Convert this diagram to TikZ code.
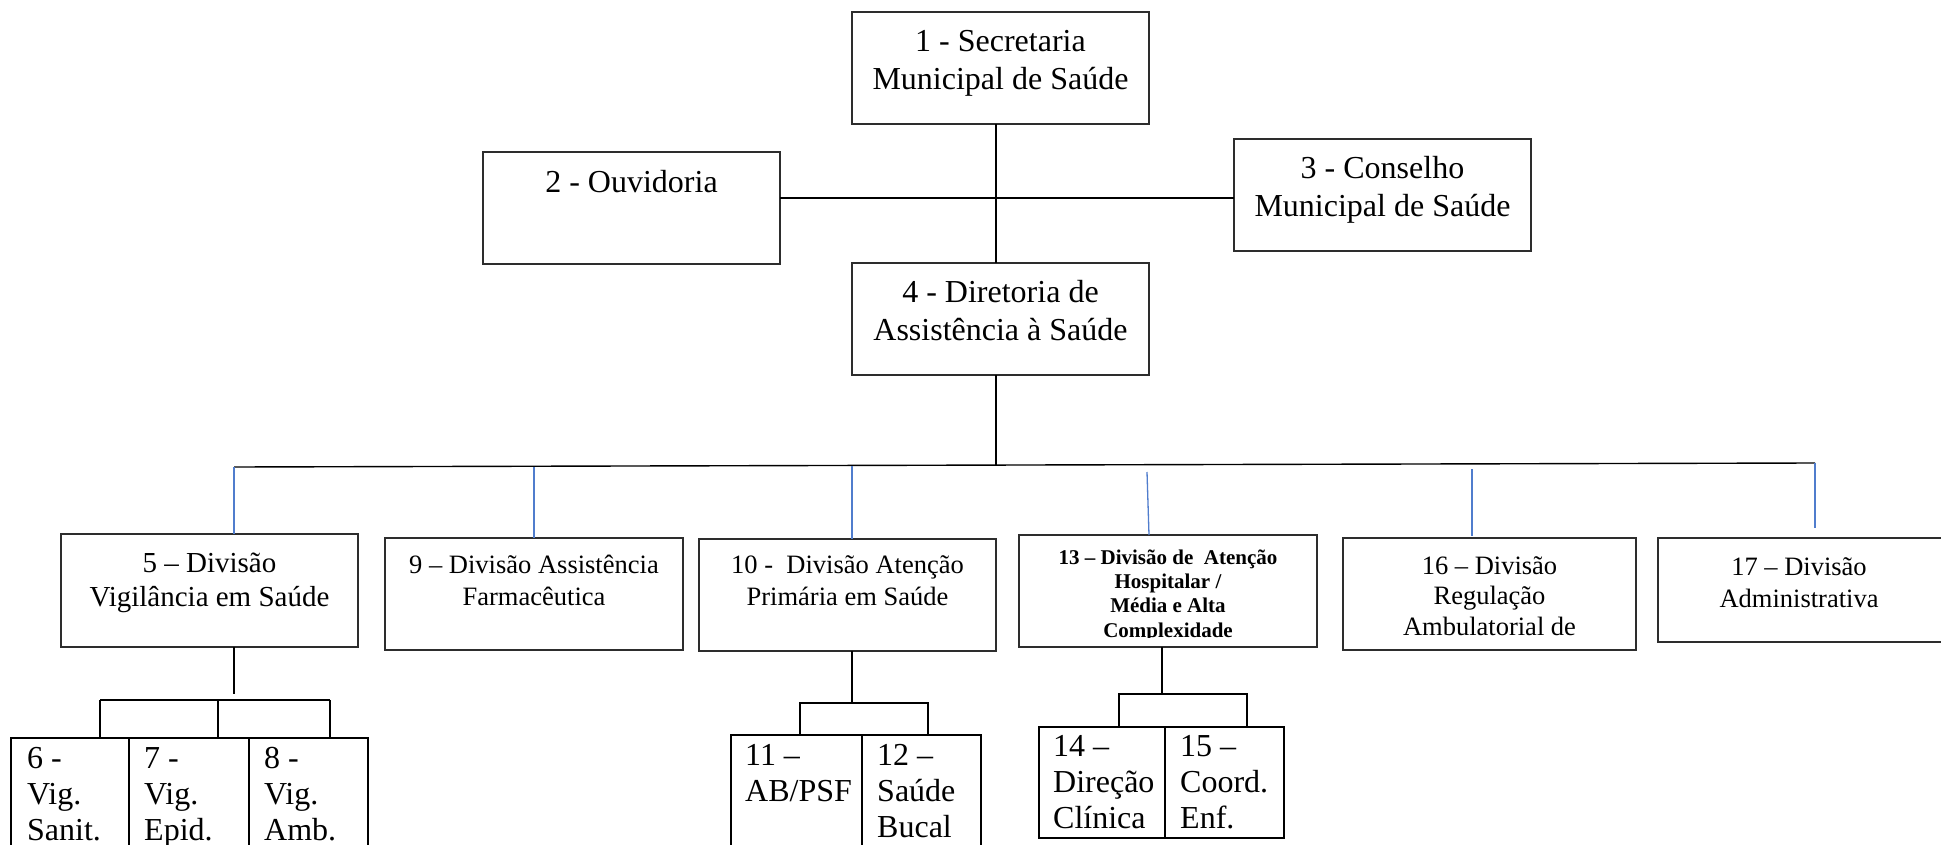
\documentclass[tikz,border=0pt]{standalone}
\usepackage{fontspec}
\setmainfont{Liberation Serif}
\definecolor{conblue}{RGB}{80,125,205}
\definecolor{boxline}{RGB}{45,45,45}
\begin{document}
\begin{tikzpicture}[x=1pt,y=-1pt,
  box/.style={draw=boxline, line width=1.6pt, anchor=north west, inner sep=0pt, outer sep=0pt},
  subbox/.style={draw=black, line width=2.6pt, anchor=north west, inner sep=0pt, outer sep=0pt},
  bigtxt/.style={font=\fontsize{32}{38}\selectfont, align=center, anchor=base, inner sep=0pt},
  vigtxt/.style={font=\fontsize{29}{34}\selectfont, align=center, anchor=base, inner sep=0pt},
  midtxt/.style={font=\fontsize{26.5}{32}\selectfont, align=center, anchor=base, inner sep=0pt},
  regtxt/.style={font=\fontsize{26.5}{30.5}\selectfont, align=center, anchor=base, inner sep=0pt},
  boldtxt/.style={font=\bfseries\fontsize{21}{24.3}\selectfont, align=center, anchor=base, inner sep=0pt},
  subtxt/.style={font=\fontsize{32}{36}\selectfont, align=left, anchor=base west, inner sep=0pt},
  blackline/.style={draw=black, line width=1.4pt},
  blueline/.style={draw=conblue, line width=1.3pt}
]
\clip (0,0) rectangle (1941,845);
\fill[white] (0,0) rectangle (1941,845);

% top level boxes (text anchors = baseline of last line)
\node[box, minimum width=297pt, minimum height=112pt] (b1) at (852,12) {};
\node[bigtxt] (t1) at ([yshift=-78pt]b1.north) {1 - Secretaria\\Municipal de Saúde};
\node[box, minimum width=297pt, minimum height=112pt] (b2) at (483,152) {};
\node[bigtxt] (t2) at ([yshift=-41pt]b2.north) {2 - Ouvidoria};
\node[box, minimum width=297pt, minimum height=112pt] (b3) at (1234,139) {};
\node[bigtxt] (t3) at ([yshift=-78pt]b3.north) {3 - Conselho\\Municipal de Saúde};
\node[box, minimum width=297pt, minimum height=112pt] (b4) at (852,263) {};
\node[bigtxt] (t4) at ([yshift=-77pt]b4.north) {4 - Diretoria de\\Assistência à Saúde};

% divisions
\node[box, minimum width=297pt, minimum height=113pt] (b5) at (61,534) {};
\node[vigtxt] (t5) at ([yshift=-72pt]b5.north) {5 – Divisão\\Vigilância em Saúde};
\node[box, minimum width=298pt, minimum height=112pt] (b9) at (385,538) {};
\node[midtxt] (t9) at ([yshift=-67pt]b9.north) {9 – Divisão Assistência\\Farmacêutica};
\node[box, minimum width=297pt, minimum height=112pt] (b10) at (699,539) {};
\node[midtxt] (t10) at ([yshift=-66pt]b10.north) {10 -\ \ Divisão Atenção\\Primária em Saúde};
\node[box, minimum width=298pt, minimum height=112pt] (b13) at (1019,535) {};
\begin{scope}
\clip (1020,536) rectangle (1316,637.5);
\node[boldtxt] (t13) at ([yshift=-102pt]b13.north) {13 – Divisão de\ \ Atenção\\Hospitalar /\\ Média e Alta\\Complexidade};
\end{scope}
\node[box, minimum width=293pt, minimum height=112pt] (b16) at (1343,538) {};
\node[regtxt] (t16) at ([yshift=-97pt]b16.north) {16 – Divisão\\Regulação\\Ambulatorial de};
\node[box, minimum width=320pt, minimum height=104pt] (b17) at (1658,538) {};
\node[midtxt] (t17) at ([yshift=-69pt]b17.north -| 1799,0) {17 – Divisão\\Administrativa};

% sub units
\node[subbox, minimum width=118pt, minimum height=200pt] (b6) at (11,738) {};
\node[subbox, minimum width=120pt, minimum height=200pt] (b7) at (129,738) {};
\node[subbox, minimum width=119pt, minimum height=200pt] (b8) at (249,738) {};
\node[subtxt] (t6) at ([xshift=16pt,yshift=-102pt]b6.north west) {6 -\\Vig.\\Sanit.};
\node[subtxt] (t7) at ([xshift=15pt,yshift=-102pt]b7.north west) {7 -\\Vig.\\Epid.};
\node[subtxt] (t8) at ([xshift=15pt,yshift=-102pt]b8.north west) {8 -\\Vig.\\Amb.};

\node[subbox, minimum width=131pt, minimum height=200pt] (b11) at (731,735) {};
\node[subbox, minimum width=119pt, minimum height=200pt] (b12) at (862,735) {};
\node[subtxt] (t11) at ([xshift=14pt,yshift=-66pt]b11.north west) {11 –\\AB/PSF};
\node[subtxt] (t12) at ([xshift=15pt,yshift=-102pt]b12.north west) {12 –\\Saúde\\Bucal};

\node[subbox, minimum width=126pt, minimum height=111pt] (b14) at (1039,727) {};
\node[subbox, minimum width=119pt, minimum height=111pt] (b15) at (1165,727) {};
\node[subtxt] (t14) at ([xshift=14pt,yshift=-101pt]b14.north west) {14 –\\Direção\\Clínica};
\node[subtxt] (t15) at ([xshift=15pt,yshift=-101pt]b15.north west) {15 –\\Coord.\\Enf.};

% main spine
\coordinate (spine) at (996,0);
\coordinate (ouvlevel) at (0,198);
\draw[blackline] (b1.south -| spine) -- (b4.north -| spine);
\draw[blackline] (b2.east |- ouvlevel) -- (b3.west |- ouvlevel);
\coordinate (busL) at (234,467);
\coordinate (busR) at (1815,463);
\coordinate (busM) at (996,465.5);
\draw[blackline] (b4.south -| spine) -- (busM);
\draw[blackline] (busL) -- (busR);

% blue drops
\coordinate (d5) at (234,467);
\coordinate (d9) at (534,467);
\coordinate (d10) at (852,466);
\coordinate (d13) at (1147,472);
\coordinate (d16) at (1472,469);
\coordinate (d17) at (1815,463);
\draw[blueline] (d5) -- (b5.north -| d5);
\draw[blueline] (d9) -- (b9.north -| d9);
\draw[blueline] (d10) -- (b10.north -| d10);
\draw[blueline] (d13) -- ([xshift=2pt]b13.north -| d13);
\draw[blueline] (d16) -- ([yshift=2pt]b16.north -| d16);
\draw[blueline] (d17) -- (1815,528);

% vigilancia subtree
\coordinate (v5) at (234,694);
\draw[blackline] (b5.south -| v5) -- (v5);
\draw[blackline] (100,700) -- (330,700);
\draw[blackline] (100,700) -- (b6.north -| 100,0);
\draw[blackline] (218,700) -- (b7.north -| 218,0);
\draw[blackline] (330,700) -- (b8.north -| 330,0);

% atencao primaria subtree
\coordinate (v10) at (852,703);
\draw[blackline] (b10.south -| v10) -- (v10);
\draw[blackline] (b11.north -| 800,0) -- (800,703) -- (928,703) -- (b12.north -| 928,0);

% hospitalar subtree
\coordinate (v13) at (1162,694);
\draw[blackline] (b13.south -| v13) -- (v13);
\draw[blackline] (b14.north -| 1119,0) -- (1119,694) -- (1247,694) -- (b15.north -| 1247,0);
\end{tikzpicture}
\end{document}
